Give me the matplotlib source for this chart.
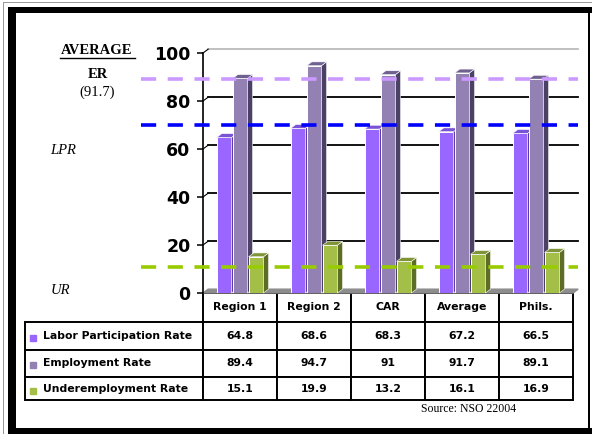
import matplotlib
matplotlib.use("Agg")
import matplotlib.pyplot as plt
import numpy as np
from matplotlib.patches import Polygon, Rectangle
from matplotlib.lines import Line2D
from matplotlib.table import Table

# data
regions = ["Region 1", "Region 2", "CAR", "Average", "Phils."]
series = ["Labor Participation Rate", "Employment Rate", "Underemployment Rate"]
lpr = [64.8, 68.6, 68.3, 67.2, 66.5]
er = [89.4, 94.7, 91, 91.7, 89.1]
ur = [15.1, 19.9, 13.2, 16.1, 16.9]
y_ticks = [0, 20, 40, 60, 80, 100]
# hand drawn average lines (ER, LPR, UR)
avg_lines = [89.2, 69.9, 11.0]

front = ["#9966FF", "#9381B3", "#A3BF48"]
top_c = ["#7A52D6", "#6E6190", "#7F9436"]
side_c = ["#5B3CA8", "#4A4165", "#5E6D26"]
line_c = ["#CC99FF", "#0000FF", "#99CC00"]

W, H = 592, 434
fig = plt.figure(figsize=(W / 100, H / 100), dpi=100)


def fx(x):
    return x / W


def fy(y):
    return 1 - y / H


AXW, AXH = 573 - 203, 293 - 53
ax = fig.add_axes([fx(203), fy(293), AXW / W, AXH / H])
ax.set_xlim(-0.5, 4.5)
ax.set_ylim(0, 100)

dx, dy = 0.07, 1.6  # depth of the fake 3d
x = np.arange(len(regions))
width = 0.2
offsets = [-0.216, 0, 0.216]

# floor
ax.add_patch(Polygon([(-0.5, 0), (-0.5 + dx, dy), (4.5 + dx, dy), (4.5, 0)],
                     closed=True, color="#8C8C8C", zorder=1, clip_on=False))

# back wall grid
for v in y_ticks[1:]:
    c = "#BBBBBB" if v == 100 else "black"
    ax.plot([-0.5 + dx, 4.5 + dx], [v + dy, v + dy], color=c, lw=1.3,
            zorder=1, clip_on=False)
    ax.plot([-0.5, -0.5 + dx], [v, v + dy], color="black", lw=0.8,
            zorder=1, clip_on=False)

for k, vals in enumerate([lpr, er, ur]):
    zo = 3 + k
    xs = x + offsets[k]
    ax.bar(xs, vals, width, color=front[k], edgecolor="white", linewidth=0.7,
           zorder=zo, label=series[k])
    for xc, h in zip(xs, vals):
        x0, x1 = xc - width / 2, xc + width / 2
        ax.add_patch(Polygon([(x1, 0), (x1 + dx, dy), (x1 + dx, h + dy), (x1, h)],
                             closed=True, facecolor=side_c[k], edgecolor="white",
                             linewidth=0.4, zorder=zo, clip_on=False))
        ax.add_patch(Polygon([(x0, h), (x0 + dx, h + dy), (x1 + dx, h + dy), (x1, h)],
                             closed=True, facecolor=top_c[k], edgecolor="white",
                             linewidth=0.4, zorder=zo, clip_on=False))

# average dashed lines
for v, c in zip(avg_lines, line_c):
    ax.plot([-1.338, 4.568], [v, v], color=c, lw=2.6, dashes=(4.2, 3.2),
            zorder=8, clip_on=False)

ax.set_yticks(y_ticks)
ax.set_yticklabels([str(t) for t in y_ticks], fontsize=12.5, fontweight="bold")
ax.tick_params(axis="y", length=4, width=1.1, pad=5, color="black")
ax.set_xticks([])
for s in ["top", "right", "bottom"]:
    ax.spines[s].set_visible(False)
ax.spines["left"].set_linewidth(1.2)

# table under the chart (sizes in axes fractions)
tb = Table(ax, bbox=[0, -107 / AXH, 1, 107 / AXH])
heights = [29, 28, 27, 23]
cw, lw_ = 74 / AXW, 178 / AXW
for j, r in enumerate(regions):
    tb.add_cell(0, j, width=cw, height=heights[0] / AXH, text=r, loc="center")
for i, vals in enumerate([lpr, er, ur]):
    h = heights[i + 1] / AXH
    tb.add_cell(i + 1, -1, width=lw_, height=h, text=series[i], loc="left")
    for j, v in enumerate(vals):
        tb.add_cell(i + 1, j, width=cw, height=h, text=f"{v:g}", loc="center")
tb.auto_set_font_size(False)
tb.set_fontsize(7.8)
for cell in tb.get_celld().values():
    cell.set_linewidth(1.4)
    cell.get_text().set_fontweight("bold")
ax.add_table(tb)

# legend keys in the table
for yk, c in zip([338, 365, 391], front):
    fig.add_artist(Line2D([fx(33)], [fy(yk)], marker="s", markersize=4.2, color=c,
                          linestyle="none", transform=fig.transFigure))

# texts on the left
fig.text(fx(97), fy(50), "AVERAGE", family="Liberation Serif", fontsize=10.5,
         fontweight="bold", ha="center", va="center")
fig.add_artist(Line2D([fx(60), fx(135)], [fy(57.5), fy(57.5)], color="black", lw=1,
                      transform=fig.transFigure))
fig.text(fx(98), fy(75), "ER", family="Liberation Serif", fontsize=10.5,
         fontweight="bold", ha="center", va="center")
fig.text(fx(97), fy(92), "(91.7)", family="Liberation Serif", fontsize=10.5,
         ha="center", va="center")
fig.text(fx(50), fy(150), "LPR", family="Liberation Serif", fontsize=10.5,
         style="italic", ha="left", va="center")
fig.text(fx(51), fy(291), "UR", family="Liberation Serif", fontsize=10.5,
         style="italic", ha="left", va="center")
fig.text(fx(469), fy(409), "Source: NSO 22004", family="Liberation Serif",
         fontsize=8.5, ha="center", va="center")


# frame
def rect(x0, y0, x1, y1, c):
    fig.add_artist(Rectangle((fx(x0), fy(y1)), (x1 - x0) / W, (y1 - y0) / H,
                             transform=fig.transFigure, color=c, lw=0))


rect(3, 2, 592, 3, "#999999")
rect(3, 2, 4, 434, "#999999")
rect(8, 7, 16, 434, "black")
rect(8, 7, 592, 13, "black")
rect(8, 428, 592, 434, "black")
rect(588, 7, 590, 434, "black")

fig.savefig("out.png", dpi=100)
